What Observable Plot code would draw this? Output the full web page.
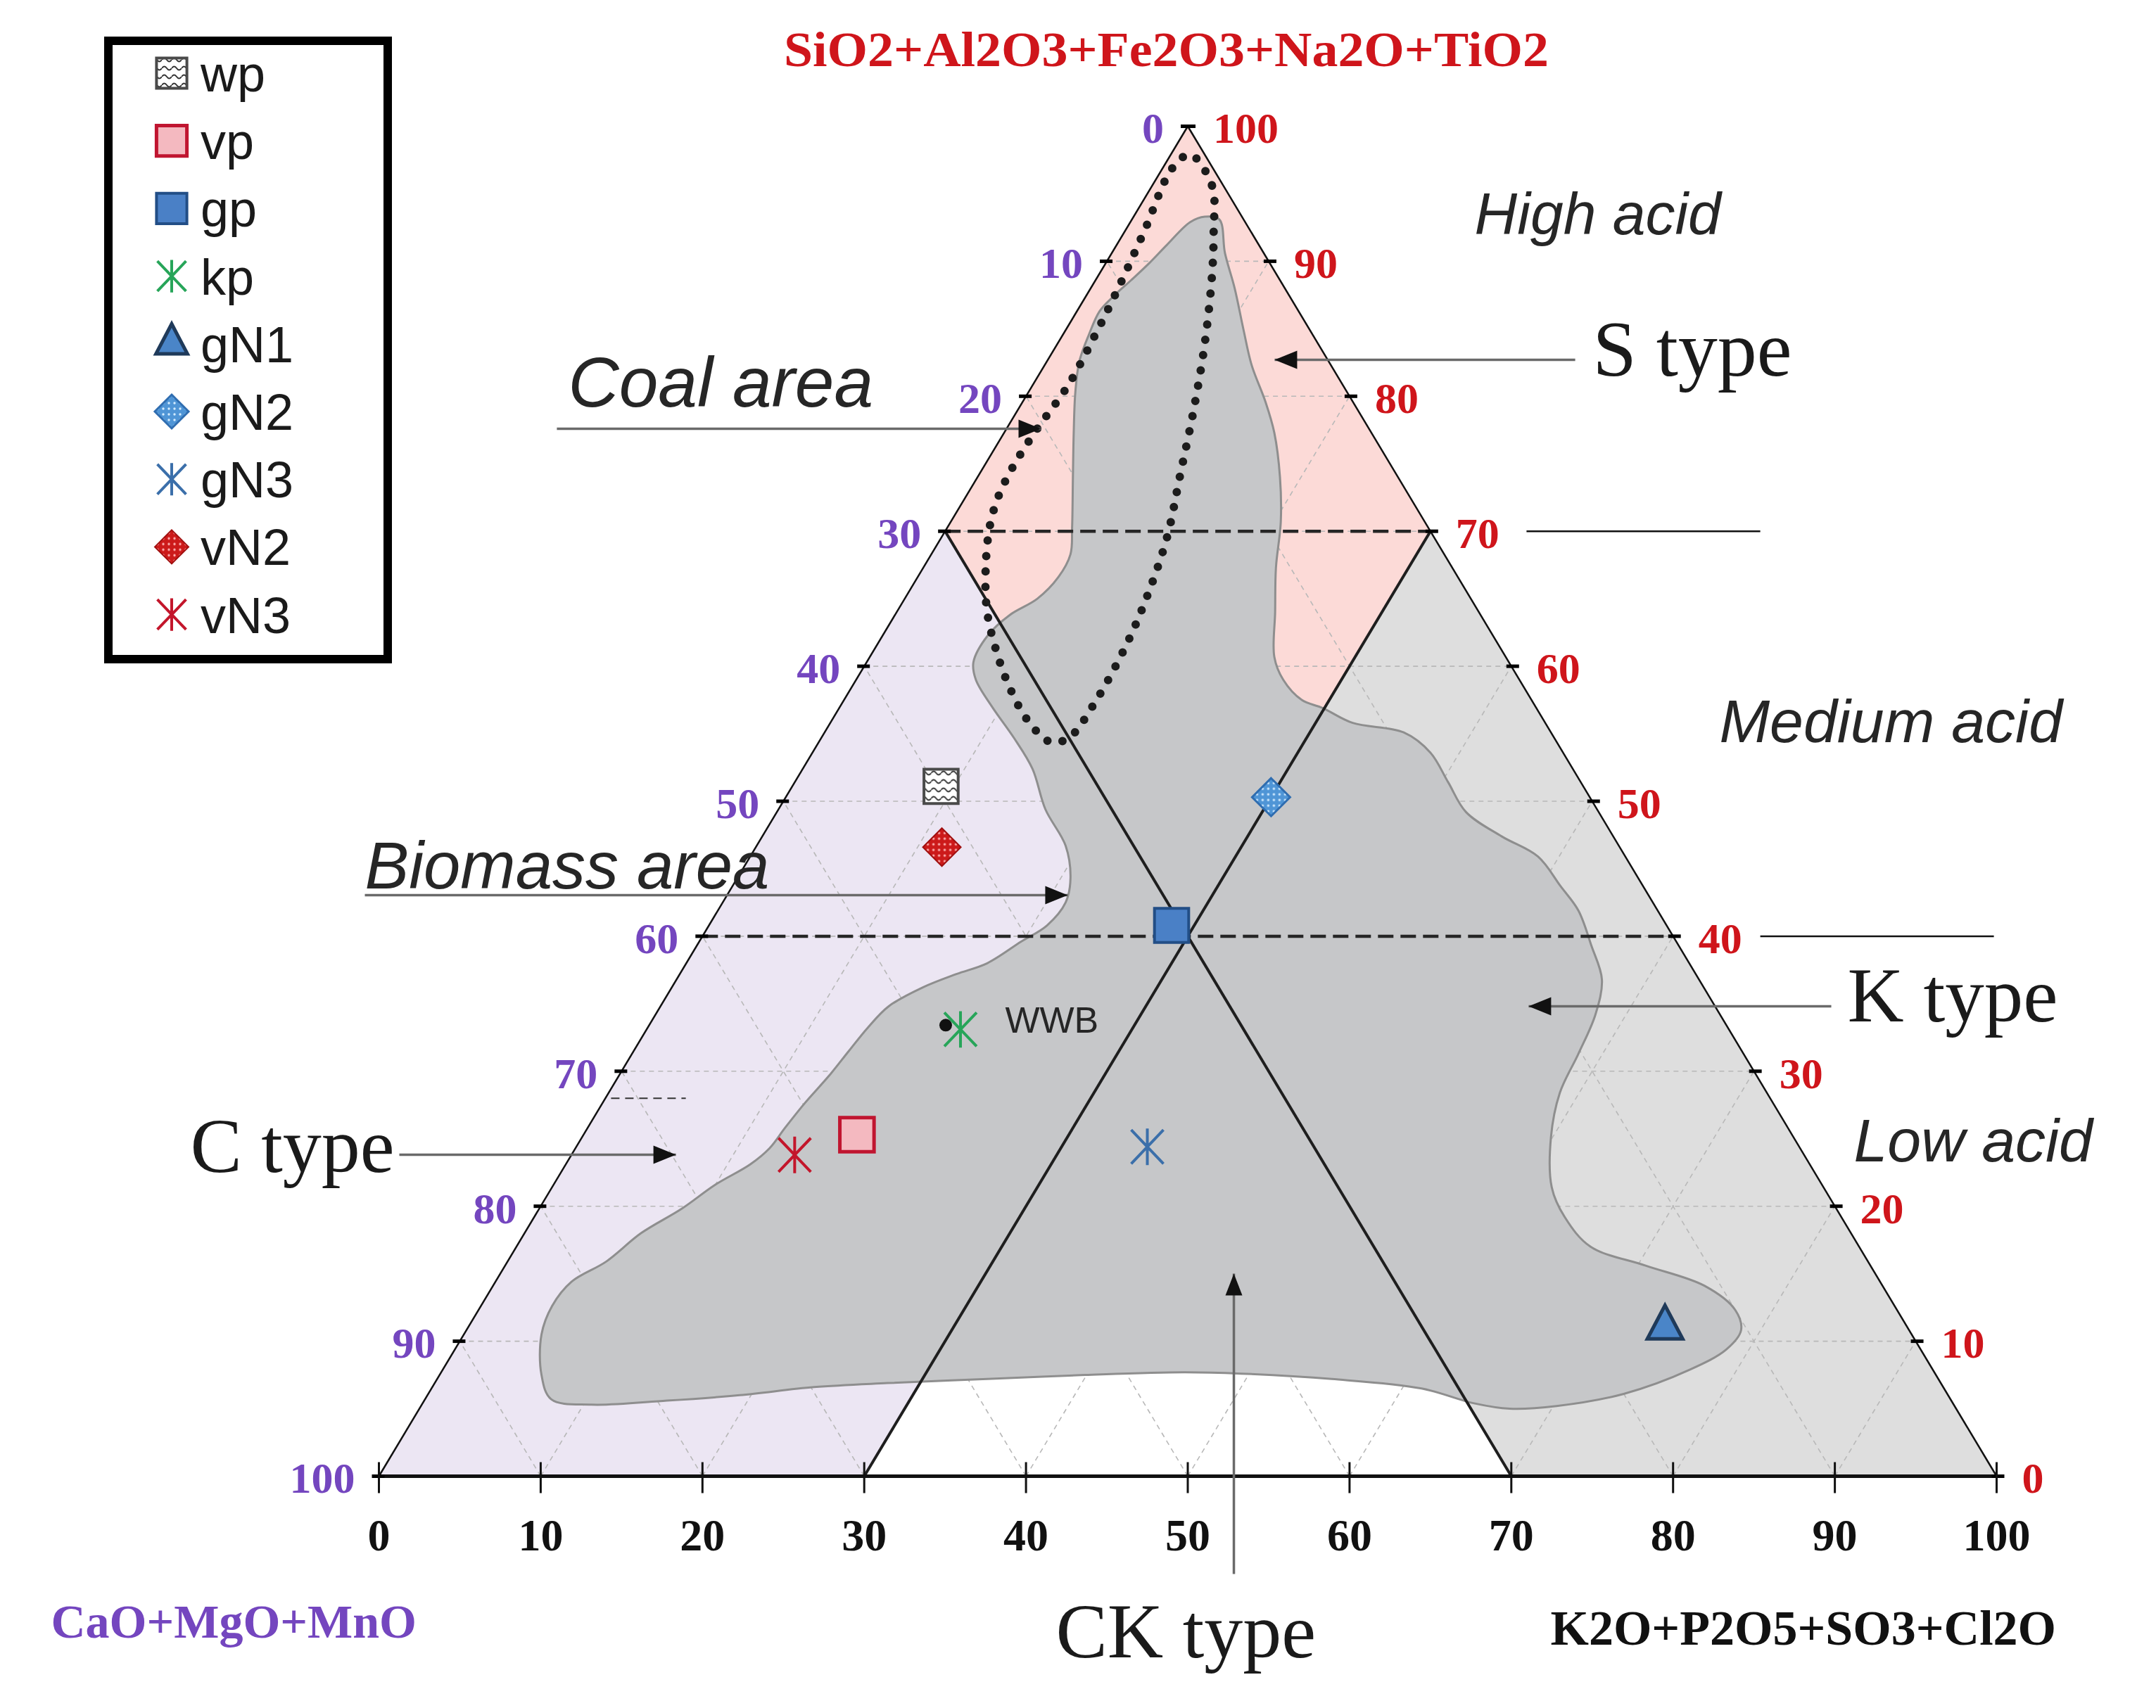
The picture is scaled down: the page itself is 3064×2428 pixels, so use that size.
<!DOCTYPE html>
<html><head><meta charset="utf-8">
<script src="https://cdn.jsdelivr.net/npm/d3@7"></script>
<script src="https://cdn.jsdelivr.net/npm/@observablehq/plot@0.6"></script>
<style>
html,body{margin:0;padding:0;background:#fff;}
#wrap{position:relative;width:3064px;height:2428px;overflow:hidden;}
</style></head>
<body><div id="wrap"></div>
<script>
// ================= DATA =================
// samples and their ternary composition (wt.%)
const samples   = ["wp", "vp", "gp", "kp", "gN1", "gN2", "gN3", "vN2", "vN3"];
const sio2Group = [51.1, 25.3, 40.8, 33.1, 11.0, 50.3, 24.4, 46.6, 23.8]; // SiO2+Al2O3+Fe2O3+Na2O+TiO2
const k2oGroup  = [ 9.2, 16.9, 28.6, 19.4, 74.0, 30.0, 35.3, 11.5, 13.8]; // K2O+P2O5+SO3+Cl2O
const caoGroup  = [39.7, 57.8, 30.6, 47.5, 15.0, 19.7, 40.3, 41.9, 62.4]; // CaO+MgO+MnO

// axis ticks
const axisTicks = [0, 10, 20, 30, 40, 50, 60, 70, 80, 90, 100];
const gridTicks = [10, 20, 30, 40, 50, 60, 70, 80, 90];

// class boundaries (wt.%)
const typeBoundK = 30;
const typeBoundC = 30;
const acidBounds = [70, 40];

// biomass (grey) area outline: K2O-group and SiO2-group values
const areaK = [4.4,5.4,7.0,8.9,11.0,12.8,15.0,16.7,18.7,20.4,21.8,23.4,25.0,26.4,28.3,29.9,32.3,35.8,38.2,40.4,42.6,45.7,48.7,51.2,53.2,55.3,57.2,58.1,58.5,58.8,59.9,61.8,63.7,66.4,70.5,74.9,77.7,78.8,78.6,77.1,73.9,70.2,67.4,65.0,61.2,55.3,49.5,45.9,39.9,34.0,28.0,23.6,19.3,15.0,10.5,7.8,6.3,4.8,4.4,4.7,6.1,7.2,8.8,10.0,11.4,12.0,12.2,12.5,13.0,13.3,13.6,14.1,15.5,17.1,18.6,19.9,20.9,21.2,20.6,19.1,16.5,14.2,11.9,9.4,7.4,6.6,6.5,7.1,8.2,8.7,8.6,7.7,5.9,4.3,2.9,2.0,1.6,1.4,1.7,2.2,2.7,3.1,3.7];
const areaS = [93.3,93.1,90.6,88.0,84.9,82.3,79.6,77.3,74.0,70.7,67.3,64.0,60.7,59.0,57.5,56.9,55.8,55.1,53.6,51.4,49.2,47.4,45.9,43.7,41.9,39.3,36.8,34.2,31.3,28.4,25.1,21.4,19.2,17.0,15.6,14.1,12.3,10.8,9.4,7.9,6.1,5.2,5.0,5.4,6.5,7.2,7.6,7.7,7.5,7.2,6.9,6.6,6.0,5.6,5.3,5.7,7.5,10.5,12.6,14.4,15.9,18.0,19.8,21.6,23.1,24.3,25.8,27.6,29.7,31.5,33.2,34.8,36.2,37.2,38.0,39.6,40.8,42.5,44.3,46.7,49.4,52.4,54.7,57.0,59.0,60.3,62.3,63.8,65.0,66.6,68.3,70.3,74.0,77.3,80.3,82.6,84.6,86.3,87.4,88.6,89.9,91.2,92.9];

// coal area (dotted) outline
const coalK = [1.2,3.7,5.5,7.0,9.1,10.9,12.5,13.9,14.8,15.4,15.6,15.3,14.3,12.1,9.8,7.7,5.6,4.0,2.6,2.0,1.8,1.9,2.2,2.0,1.7,1.2,0.6];
const coalS = [97.9,95.6,92.2,89.0,83.9,78.9,74.0,69.7,65.7,61.7,57.4,54.7,54.4,56.0,58.4,61.0,64.0,67.0,70.3,72.6,75.0,77.6,80.8,84.6,88.0,92.2,96.9];

// ================= STYLE / LAYOUT =================
const SERIF = "'Liberation Serif','Times New Roman',serif";
const SANS = "'Liberation Sans',Arial,sans-serif";
const RED = "#cf151b", PURPLE = "#7446bf";

// ternary projection: x along bottom axis, y = SiO2 group
const tx = d => d.K + d.S / 2;
const ty = d => d.S;
const zone = verts => verts.map(([K, S]) => ({K, S}));

const points = samples.map((s, i) => ({sample: s, S: sio2Group[i], K: k2oGroup[i], C: caoGroup[i]}));
const area = areaK.map((K, i) => ({K, S: areaS[i]}));
const coal = coalK.map((K, i) => ({K, S: coalS[i]}));

const pinkZone   = zone([[0,100],[100-typeBoundC,typeBoundC],[typeBoundK,100-typeBoundK-typeBoundC],[0,100-typeBoundC]]);
const purpleZone = zone([[0,0],[0,100-typeBoundC],[typeBoundK,100-typeBoundK-typeBoundC],[typeBoundK,0]]);
const greyZone   = zone([[100,0],[typeBoundK,100-typeBoundK],[typeBoundK,100-typeBoundK-typeBoundC],[100-typeBoundC,0]]);

// custom symbols
const symSquare = {draw(c, size){const r=Math.sqrt(size/Math.PI), h=r*0.9; c.moveTo(-h,-h); c.lineTo(h,-h); c.lineTo(h,h); c.lineTo(-h,h); c.closePath();}};
const symDiamond = {draw(c, size){const r=Math.sqrt(size/Math.PI); c.moveTo(0,-r); c.lineTo(r,0); c.lineTo(0,r); c.lineTo(-r,0); c.closePath();}};
const symTriangle = {draw(c, size){const r=Math.sqrt(size/Math.PI); c.moveTo(0,-1.18*r); c.lineTo(0.93*r,0.59*r); c.lineTo(-0.93*r,0.59*r); c.closePath();}};
const symAster = {draw(c, size){const r=Math.sqrt(size/Math.PI); c.moveTo(0,-0.96*r); c.lineTo(0,0.96*r); c.moveTo(-0.85*r,-0.89*r); c.lineTo(0.85*r,0.89*r); c.moveTo(0.85*r,-0.89*r); c.lineTo(-0.85*r,0.89*r);}};
const symHTick = {draw(c){c.rect(-9,-2.5,18,5);}};
const symVTick = {draw(c){c.rect(-1.5,-20,3,44);}};
const headRight = {draw(c){c.moveTo(0,0); c.lineTo(-32,-13); c.lineTo(-32,13); c.closePath();}};
const headLeft = {draw(c){c.moveTo(0,0); c.lineTo(32,-13); c.lineTo(32,13); c.closePath();}};
const headUp = {draw(c){c.moveTo(0,0); c.lineTo(-12,31); c.lineTo(12,31); c.closePath();}};

const markerStyle = {
  wp:  {symbol: symSquare,   fill: "url(#wpPat)",  stroke: "#4a4a4a", sw: 4},
  vp:  {symbol: symSquare,   fill: "#f4b9c0",      stroke: "#c01530", sw: 5},
  gp:  {symbol: symSquare,   fill: "#4a80c6",      stroke: "#224e86", sw: 4},
  kp:  {symbol: symAster,    fill: "none",         stroke: "#27a559", sw: 4},
  gN1: {symbol: symTriangle, fill: "#4a85c8",      stroke: "#1f3a5a", sw: 5},
  gN2: {symbol: symDiamond,  fill: "url(#gN2Pat)", stroke: "#2f6db0", sw: 3},
  gN3: {symbol: symAster,    fill: "none",         stroke: "#3b6faa", sw: 4},
  vN2: {symbol: symDiamond,  fill: "url(#vN2Pat)", stroke: "#a01010", sw: 2},
  vN3: {symbol: symAster,    fill: "none",         stroke: "#c3162b", sw: 4}
};

// annotations (plot units: x along base 0-100, y = SiO2 group)
const sansNotes = [
  {text: "Coal area",    x: 11.70, y: 80.88, size: 100, italic: true},
  {text: "Biomass area", x: -0.87, y: 45.10, size: 94,  italic: true},
  {text: "High acid",    x: 67.73, y: 93.38, size: 84,  italic: true},
  {text: "Medium acid",  x: 82.86, y: 55.81, size: 86,  italic: true},
  {text: "Low acid",     x: 91.17, y: 24.75, size: 86,  italic: true},
  {text: "WWB",          x: 38.71, y: 33.72, size: 52,  italic: false}
];
const serifNotes = [
  {text: "S type",  x: 75.03, y: 83.38, size: 112},
  {text: "K type",  x: 90.78, y: 35.54, size: 111},
  {text: "C type",  x: -11.66, y: 24.39, size: 110},
  {text: "CK type", x: 41.84, y: -11.57, size: 110}
];
const arrows = [
  {x1: 11.00, y1: 77.59, x2: 40.93, y2: 77.59, dir: "right"},
  {x1: -0.87, y1: 43.04, x2: 42.58, y2: 43.04, dir: "right"},
  {x1: 1.26,  y1: 23.81, x2: 18.36, y2: 23.81, dir: "right"},
  {x1: 73.95, y1: 82.70, x2: 55.37, y2: 82.70, dir: "left"},
  {x1: 89.78, y1: 34.81, x2: 71.07, y2: 34.81, dir: "left"},
  {x1: 52.85, y1: -7.24, x2: 52.85, y2: 15.01, dir: "up"}
];
const acidLines = [
  {x1: 70.94, x2: 85.39, y: 70},
  {x1: 85.39, x2: 99.83, y: 40}
];

const gridStyle = {stroke: "#b8b8b8", strokeWidth: 1.6, strokeDasharray: "7,6"};

const marks = [
  Plot.line(pinkZone,   {x: tx, y: ty, fill: "#fcdad7", stroke: "none", curve: "linear-closed"}),
  Plot.line(purpleZone, {x: tx, y: ty, fill: "#ece6f3", stroke: "none", curve: "linear-closed"}),
  Plot.line(greyZone,   {x: tx, y: ty, fill: "#dedede", stroke: "none", curve: "linear-closed"}),
  Plot.link(gridTicks, {x1: t => t/2, y1: t => t, x2: t => 100 - t/2, y2: t => t, ...gridStyle}),
  Plot.link(gridTicks, {x1: t => t, y1: t => 0, x2: t => t + (100 - t)/2, y2: t => 100 - t, ...gridStyle}),
  Plot.link(gridTicks, {x1: t => 100 - t, y1: t => 0, x2: t => (100 - t)/2, y2: t => 100 - t, ...gridStyle}),
  Plot.line(area, {x: tx, y: ty, fill: "#c6c7c9", stroke: "#8e8e8e", strokeWidth: 3, curve: "catmull-rom-closed"}),
  Plot.line(coal, {x: tx, y: ty, stroke: "#1c1c1c", strokeWidth: 12, strokeDasharray: "0,22", strokeLinecap: "round", curve: "catmull-rom-closed"}),
  Plot.link([typeBoundK], {x1: k => k, y1: k => 0, x2: k => k + (100 - k)/2, y2: k => 100 - k, stroke: "#1e1e1e", strokeWidth: 4}),
  Plot.link([typeBoundC], {x1: c => 100 - c, y1: c => 0, x2: c => (100 - c)/2, y2: c => 100 - c, stroke: "#1e1e1e", strokeWidth: 4}),
  Plot.link(acidBounds, {x1: s => s/2, y1: s => s, x2: s => 100 - s/2, y2: s => s, stroke: "#262626", strokeWidth: 4.5, strokeDasharray: "22,10"}),
  Plot.link(acidLines, {x1: "x1", x2: "x2", y1: "y", y2: "y", stroke: "#111", strokeWidth: 2.5}),
  Plot.link([{x1: 14.35, x2: 18.97, y: 28.0}], {x1: "x1", x2: "x2", y1: "y", y2: "y", stroke: "#333", strokeWidth: 2, strokeDasharray: "12,8"}),
  Plot.link([{x1: 0, y1: 0, x2: 50, y2: 100}, {x1: 100, y1: 0, x2: 50, y2: 100}], {x1: "x1", y1: "y1", x2: "x2", y2: "y2", stroke: "#111", strokeWidth: 2.5}),
  Plot.link([{x1: 0, y1: 0, x2: 100, y2: 0}], {x1: "x1", y1: "y1", x2: "x2", y2: "y2", stroke: "#111", strokeWidth: 5}),
  Plot.dot(axisTicks, {x: c => (100 - c)/2, y: c => 100 - c, symbol: symHTick, fill: "#000", stroke: "none", dx: -1}),
  Plot.dot(axisTicks, {x: s => 100 - s/2, y: s => s, symbol: symHTick, fill: "#000", stroke: "none", dx: 2}),
  Plot.dot(axisTicks, {x: k => k, y: k => 0, symbol: symVTick, fill: "#111", stroke: "none"}),
  Plot.text(axisTicks, {x: c => (100 - c)/2, y: c => 100 - c, text: c => String(c), textAnchor: "end", dx: -34, dy: 4, fill: PURPLE, fontSize: 62, fontWeight: "bold", fontFamily: SERIF}),
  Plot.text(axisTicks, {x: s => 100 - s/2, y: s => s, text: s => String(s), textAnchor: "start", dx: 36, dy: 4, fill: RED, fontSize: 62, fontWeight: "bold", fontFamily: SERIF}),
  Plot.text(axisTicks, {x: k => k, y: k => 0, text: k => String(k), dy: 85, fill: "#111", fontSize: 64, fontWeight: "bold", fontFamily: SERIF}),
  Plot.text(["SiO2+Al2O3+Fe2O3+Na2O+TiO2"], {x: 48.67, y: 105.63, text: d => d, fill: RED, fontSize: 70, fontWeight: "bold", fontFamily: SERIF}),
  Plot.text(["CaO+MgO+MnO"], {x: -20.27, y: -10.84, text: d => d, textAnchor: "start", fill: PURPLE, fontSize: 68, fontWeight: "bold", fontFamily: SERIF}),
  Plot.text(["K2O+P2O5+SO3+Cl2O"], {x: 72.42, y: -11.31, text: d => d, textAnchor: "start", fill: "#111", fontSize: 70, fontWeight: "bold", fontFamily: SERIF}),
  ...sansNotes.map(n => Plot.text([n], {x: "x", y: "y", text: "text", textAnchor: "start", fill: "#262626", fontSize: n.size, fontStyle: n.italic ? "italic" : "normal", fontFamily: SANS})),
  ...serifNotes.map(n => Plot.text([n], {x: "x", y: "y", text: "text", textAnchor: "start", fill: "#1a1a1a", fontSize: n.size, fontFamily: SERIF})),
  Plot.link(arrows, {x1: "x1", y1: "y1", x2: "x2", y2: "y2", stroke: "#6a6a6a", strokeWidth: 3.5}),
  Plot.dot(arrows.filter(a => a.dir === "right"), {x: "x2", y: "y2", symbol: headRight, fill: "#111", stroke: "none"}),
  Plot.dot(arrows.filter(a => a.dir === "left"),  {x: "x2", y: "y2", symbol: headLeft,  fill: "#111", stroke: "none"}),
  Plot.dot(arrows.filter(a => a.dir === "up"),    {x: "x2", y: "y2", symbol: headUp,    fill: "#111", stroke: "none"}),
  Plot.dot(points.filter(d => d.sample === "kp"), {x: tx, y: ty, r: 9, fill: "#111", stroke: "none", dx: -21, dy: -6}),
  ...samples.map(s => {
    const st = markerStyle[s];
    return Plot.dot(points.filter(d => d.sample === s), {x: tx, y: ty, r: 27, symbol: st.symbol, fill: st.fill, stroke: st.stroke, strokeWidth: st.sw});
  })
];

const svg = Plot.plot({
  width: 3064, height: 2428,
  marginLeft: 538, marginRight: 227, marginTop: 179, marginBottom: 330,
  x: {domain: [0, 100], axis: null},
  y: {domain: [0, 100], axis: null},
  style: {background: "#ffffff", overflow: "visible"},
  marks
});

d3.select(svg).insert("defs", ":first-child").html(`
  <pattern id="wpPat" patternUnits="userSpaceOnUse" width="14" height="12">
    <rect width="14" height="12" fill="#ffffff"/>
    <path d="M0 5 Q3.5 0 7 5 T14 5" fill="none" stroke="#333" stroke-width="2"/>
  </pattern>
  <pattern id="gN2Pat" patternUnits="userSpaceOnUse" width="8" height="8">
    <rect width="8" height="8" fill="#4f95d6"/>
    <circle cx="4" cy="4" r="1.7" fill="#d4ecff"/>
  </pattern>
  <pattern id="vN2Pat" patternUnits="userSpaceOnUse" width="8" height="8">
    <rect width="8" height="8" fill="#cc1a1a"/>
    <circle cx="4" cy="4" r="1.7" fill="#ffb3b3"/>
  </pattern>`);

d3.select(svg).selectAll("text").each(function() {
  if (this.textContent === "SiO2+Al2O3+Fe2O3+Na2O+TiO2") {
    this.setAttribute("textLength", 1087);
    this.setAttribute("lengthAdjust", "spacingAndGlyphs");
  }
});

// legend
const lg = d3.select(svg).append("g").attr("text-anchor", "start");
lg.append("rect").attr("x", 154).attr("y", 58).attr("width", 397).attr("height", 879)
  .attr("fill", "#fff").attr("stroke", "#000").attr("stroke-width", 12);
samples.forEach((s, i) => {
  const cy = 104 + i * 96.2, st = markerStyle[s];
  lg.append("path").attr("transform", `translate(244,${cy})`)
    .attr("d", d3.symbol(st.symbol, 24 * 24 * Math.PI)())
    .attr("fill", st.fill).attr("stroke", st.stroke).attr("stroke-width", st.sw);
  lg.append("text").attr("x", 285).attr("y", cy + 26).attr("text-anchor", "start").text(s)
    .attr("font-family", SANS).attr("font-size", 72).attr("fill", "#1a1a1a");
});

document.getElementById("wrap").appendChild(svg);
</script>
</body></html>
